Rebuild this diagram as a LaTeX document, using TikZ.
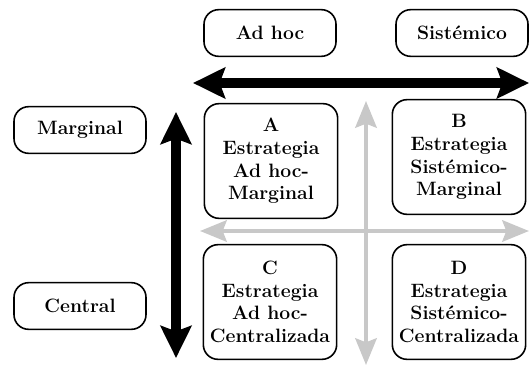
\documentclass[tikz,border=0pt]{standalone}
\usetikzlibrary{shapes,arrows.meta}
\definecolor{axisgray}{RGB}{200,200,200}
\begin{document}
\begin{tikzpicture}[x=0.75pt,y=-0.75pt]
    \tikzstyle{every node}=[font=\fontsize{14.5}{17}\selectfont\bfseries]
    \tikzstyle{tag}=[rectangle,rounded corners=11pt,draw,line width=1.2pt,minimum width=99pt,minimum height=35pt]
    \tikzstyle{cell}=[tag,align=center,minimum width=100pt,minimum height=86pt,inner sep=2pt]
    \tikzstyle{bigarrow}=[line width=7pt,{Stealth[length=24pt,width=23pt,inset=4pt]}-{Stealth[length=24pt,width=23pt,inset=4pt]}]
    \tikzstyle{lightarrow}=[axisgray,line width=3pt,{Stealth[length=20pt,width=16pt,inset=3pt]}-{Stealth[length=20pt,width=16pt,inset=3pt]}]
    \useasboundingbox (0,0) rectangle (531,367);
    % column and row heads
    \node[tag] (adhoc) at (270,33) {Ad hoc};
    \node[tag] (sist) at (462,33) {Sistémico};
    \node[tag] (marg) at (80,130) {Marginal};
    \node[tag] (cent) at (80,306) {Central};
    % the four strategies
    \node[cell] (A) at (271,161) {A\\Estrategia\\Ad hoc-\\Marginal};
    \node[cell] (B) at (459,157) {B\\Estrategia\\Sistémico-\\Marginal};
    \node[cell] (C) at (270,302) {C\\Estrategia\\Ad hoc-\\Centralizada};
    \node[cell] (D) at (459,302) {D\\Estrategia\\Sistémico-\\Centralizada};
    % axes
    \coordinate (hl) at (193,83);
    \coordinate (hr) at (529,83);
    \coordinate (vt) at (176,112);
    \coordinate (vb) at (176,358);
    \coordinate (gl) at (200,231);
    \coordinate (gr) at (529,231);
    \coordinate (gt) at (366,101);
    \coordinate (gb) at (366,365);
    \draw[lightarrow] (gl) -- (gr);
    \draw[lightarrow] (gt) -- (gb);
    \draw[bigarrow] (hl) -- (hr);
    \draw[bigarrow] (vt) -- (vb);
\end{tikzpicture}
\end{document}
